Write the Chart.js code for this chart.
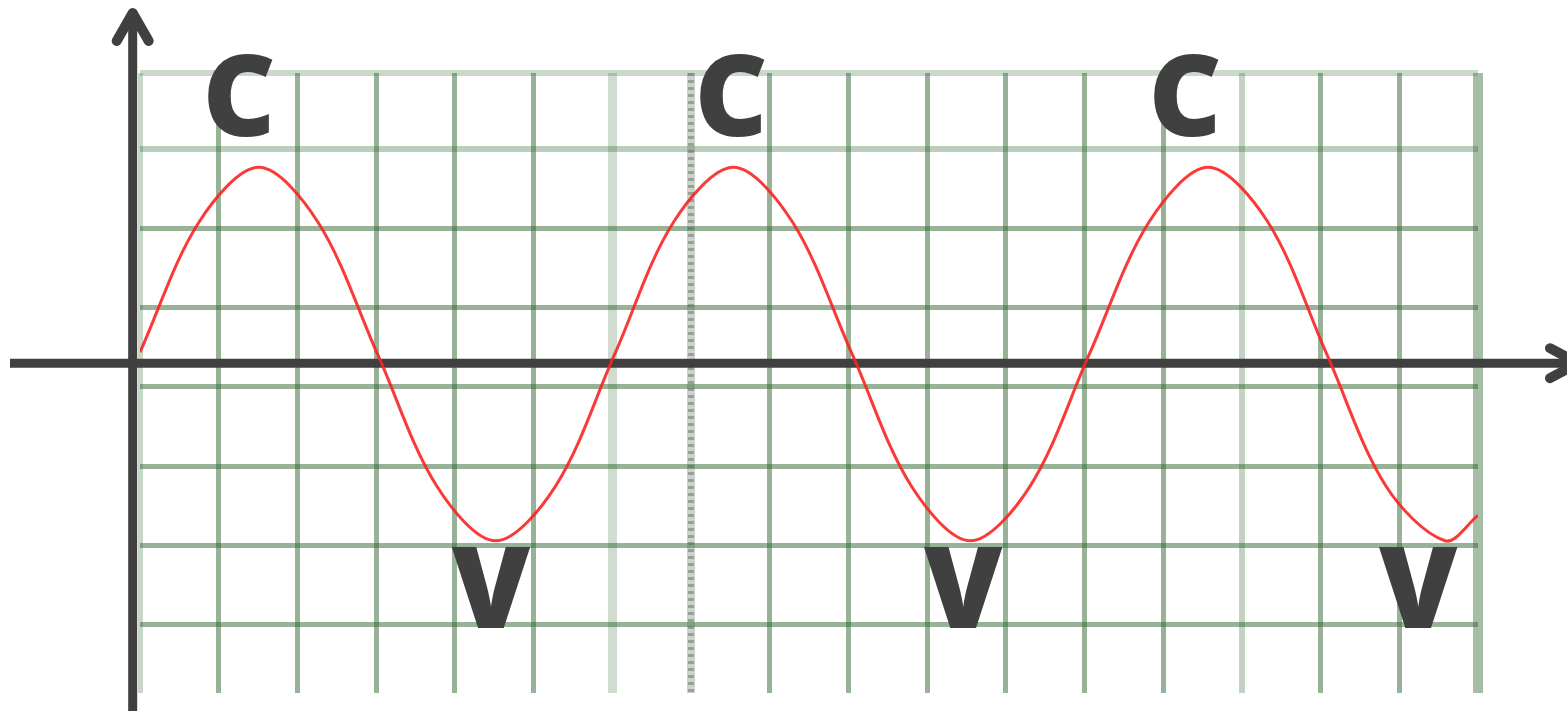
<!DOCTYPE html>
<html>
<head>
<meta charset="utf-8">
<script src="https://cdn.jsdelivr.net/npm/chart.js@4/dist/chart.umd.min.js"></script>
<style>
  html, body { margin: 0; padding: 0; background: #fff; }
  #wrap { width: 1567px; height: 711px; position: relative; }
</style>
</head>
<body>
<div id="wrap"><canvas id="wave"></canvas></div>
<script>
// grid units: one vertical line = 1 on x, one horizontal line = 1 on y
const X_LINES = [0, 1, 2, 3, 4, 5, 6, 7, 8, 9, 10, 11, 12, 13, 14, 15, 16, 17];
const Y_LINES = [0, 1, 2, 3, 4, 5, 6, 6.96];

// the red wave, every eighth of a period
const WAVE_X = [0, 0.75, 1.51, 2.26, 3.02, 3.77, 4.52, 5.28, 6.03, 6.78, 7.54, 8.29,
                9.05, 9.80, 10.55, 11.31, 12.06, 12.82, 13.57, 14.33, 15.08, 15.83, 16.58, 17];
const WAVE_Y = [3.44, 5.08, 5.77, 5.08, 3.41, 1.75, 1.06, 1.75, 3.41, 5.08, 5.77, 5.08,
                3.41, 1.75, 1.06, 1.75, 3.41, 5.08, 5.77, 5.08, 3.41, 1.75, 1.06, 1.38];

// crest / valley marks
const MARK_TEXT = ['C', 'V', 'C', 'V', 'C', 'V'];
const MARK_X = [1.26, 4.46, 7.51, 10.46, 13.28, 16.24];
const MARK_Y = [6.16, -0.04, 6.16, -0.04, 6.16, -0.04];

// where the two axes cross, in grid units
const AXIS_X_AT = 3.30;   // horizontal axis (y value)
const AXIS_Y_AT = -0.093; // vertical axis (x value)

const GREEN = 'rgba(55,108,55,0.52)';
const PALE = 'rgba(55,108,55,0.28)';
const xLineColor = { 0: PALE, 6: 'rgba(55,108,55,0.24)', 7: 'rgba(110,130,110,0.35)', 14: 'rgba(55,108,55,0.30)', 17: 'rgba(55,108,55,0.45)' };
const xLineWidth = { 0: 5, 6: 9, 7: 8, 14: 6, 17: 10 };
const yLineColor = { 6: 'rgba(55,108,55,0.34)', 6.96: 'rgba(55,108,55,0.26)' };
const yLineWidth = { 6: 6, 6.96: 6 };

const INK = '#404040';

function arrowHead(ctx, tx, ty, ax1, ay1, ax2, ay2) {
    ctx.beginPath();
    ctx.moveTo(ax1, ay1);
    ctx.lineTo(tx, ty);
    ctx.lineTo(ax2, ay2);
    ctx.stroke();
}

const axesPlugin = {
    id: 'axes',
    beforeDatasetsDraw(chart) {
        const { ctx, scales: { x, y }, chartArea } = chart;
        // dotted middle line
        const dx = x.getPixelForValue(7);
        ctx.save();
        ctx.strokeStyle = 'rgba(90,100,90,0.45)';
        ctx.lineWidth = 6;
        ctx.setLineDash([3, 4]);
        ctx.beginPath();
        ctx.moveTo(dx, chartArea.top);
        ctx.lineTo(dx, chartArea.bottom);
        ctx.stroke();
        ctx.restore();

        const ax = y.getPixelForValue(AXIS_X_AT);
        const ay = x.getPixelForValue(AXIS_Y_AT);
        ctx.save();
        ctx.strokeStyle = INK;
        ctx.lineWidth = 9;
        ctx.lineCap = 'butt';
        ctx.beginPath();
        ctx.moveTo(10, ax);
        ctx.lineTo(chart.width + 10, ax);
        ctx.moveTo(ay, chart.height);
        ctx.lineTo(ay, 14);
        ctx.stroke();
        ctx.lineCap = 'round';
        ctx.lineJoin = 'round';
        ctx.lineWidth = 10;
        arrowHead(ctx, ay, 13, ay - 16, 41, ay + 16, 41);
        const tip = chart.width + 11;
        arrowHead(ctx, tip, ax, tip - 28, ax - 15, tip - 28, ax + 15);
        ctx.restore();
    },
    afterDatasetsDraw(chart) {
        const { ctx, scales: { x, y } } = chart;
        ctx.save();
        ctx.fillStyle = INK;
        ctx.font = '800 113px "Open Sans"';
        ctx.textAlign = 'center';
        ctx.textBaseline = 'alphabetic';
        MARK_TEXT.forEach((t, i) => {
            ctx.fillText(t, x.getPixelForValue(MARK_X[i]), y.getPixelForValue(MARK_Y[i]));
        });
        ctx.restore();
    }
};

new Chart(document.getElementById('wave'), {
    type: 'line',
    data: {
        datasets: [{
            data: WAVE_X.map((v, i) => ({ x: v, y: WAVE_Y[i] })),
            borderColor: 'rgba(250,35,35,0.9)',
            borderWidth: 3,
            pointRadius: 0,
            tension: 0.33,
            fill: false
        }]
    },
    options: {
        responsive: true,
        maintainAspectRatio: false,
        animation: false,
        events: [],
        layout: { padding: { left: 140, right: 89, top: 73, bottom: 18 } },
        plugins: { legend: { display: false }, tooltip: { enabled: false } },
        scales: {
            x: {
                type: 'linear',
                min: 0,
                max: 17,
                afterBuildTicks: s => { s.ticks = X_LINES.map(v => ({ value: v })); },
                ticks: { display: false },
                border: { display: false },
                grid: {
                    drawTicks: false,
                    color: c => xLineColor[c.tick.value] || GREEN,
                    lineWidth: c => xLineWidth[c.tick.value] || 5
                }
            },
            y: {
                type: 'linear',
                min: -0.86,
                max: 6.96,
                afterBuildTicks: s => { s.ticks = Y_LINES.map(v => ({ value: v })); },
                ticks: { display: false },
                border: { display: false },
                grid: {
                    drawTicks: false,
                    color: c => yLineColor[c.tick.value] || GREEN,
                    lineWidth: c => yLineWidth[c.tick.value] || 5
                }
            }
        }
    },
    plugins: [axesPlugin]
});
</script>
</body>
</html>
